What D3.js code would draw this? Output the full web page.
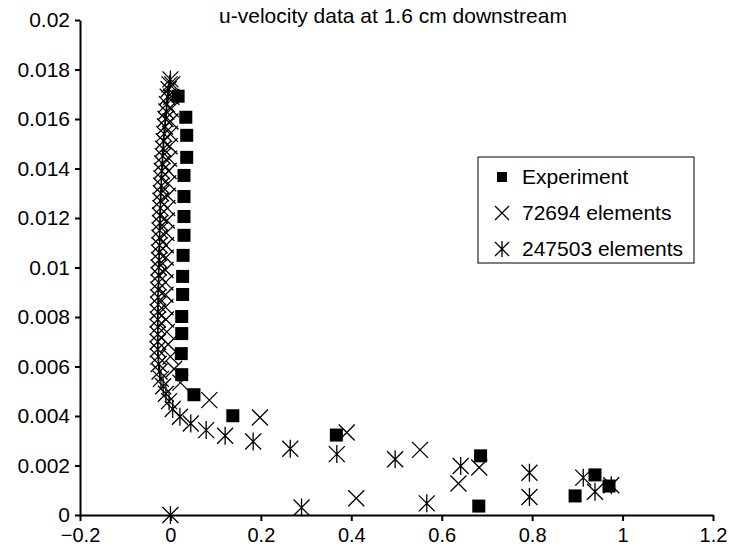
<!DOCTYPE html>
<html>
<head>
<meta charset="utf-8">
<script src="https://cdn.jsdelivr.net/npm/d3@7"></script>
<style>
  body { margin: 0; background: #fff; }
  svg { display: block; }
  text { font-family: "Liberation Sans", Arial, Helvetica, sans-serif; fill: #000; }
  .axis path, .axis line { stroke: #000; stroke-width: 2; }
  .axis text { font-size: 21px; }
  .xaxis text { font-size: 20px; }
</style>
</head>
<body>
<svg id="chart" width="729" height="547"></svg>
<script>
// ---- data ----
const title = "u-velocity data at 1.6 cm downstream"
const legendLabels = ["Experiment", "72694 elements", "247503 elements"]

const xTicks = [-0.2, 0, 0.2, 0.4, 0.6, 0.8, 1, 1.2]
const xTickLabels = ["\u22120.2", "0", "0.2", "0.4", "0.6", "0.8", "1", "1.2"]
const yTicks = [0, 0.002, 0.004, 0.006, 0.008, 0.01, 0.012, 0.014, 0.016, 0.018, 0.02]
const yTickLabels = ["0", "0.002", "0.004", "0.006", "0.008", "0.01", "0.012", "0.014", "0.016", "0.018", "0.02"]

// Experiment
const expX = [0.017, 0.034, 0.036, 0.036, 0.030, 0.030, 0.030, 0.030, 0.028, 0.027, 0.027, 0.025, 0.025, 0.024, 0.025,
              0.052, 0.138, 0.367, 0.686, 0.682, 0.895, 0.939, 0.970]
const expY = [0.01692, 0.01607, 0.01534, 0.01445, 0.01372, 0.01287, 0.01206, 0.01130, 0.01049, 0.00964, 0.00891, 0.00802, 0.00733, 0.00652, 0.00567,
              0.00486, 0.00401, 0.00323, 0.00239, 0.00036, 0.00077, 0.00162, 0.00117]

// 72694 elements
const coarseX = [0.411, 0.637, 0.683, 0.552, 0.390, 0.198, 0.086, 0.022, 0.008, 0.000, -0.005, -0.008, -0.010, -0.011, -0.011, -0.011,
                 -0.011, -0.010, -0.010, -0.009, -0.008, -0.007, -0.006, -0.005, -0.004, -0.003, -0.002, -0.001, 0.000, 0.001, 0.002, 0.004]
const coarseY = [0.00068, 0.00127, 0.00192, 0.00263, 0.00333, 0.00394, 0.00464, 0.00535, 0.0059, 0.0064, 0.0069, 0.0074, 0.0079, 0.0084, 0.0089, 0.0094,
                 0.0099, 0.0104, 0.0109, 0.0114, 0.0119, 0.0124, 0.0129, 0.0134, 0.0139, 0.0144, 0.0149, 0.0154, 0.0159, 0.0164, 0.0169, 0.0174]

// 247503 elements
const fineX = [0.000, 0.290, 0.567, 0.794, 0.939, 0.975, 0.913, 0.794, 0.642, 0.497, 0.368, 0.265, 0.183, 0.121, 0.079, 0.045, 0.021,
               0.005, -0.003, -0.010, -0.016, -0.021, -0.024, -0.026, -0.027, -0.028, -0.028, -0.028, -0.028, -0.028, -0.028,
               -0.027, -0.027, -0.027, -0.026, -0.026, -0.026, -0.025, -0.025, -0.024, -0.024, -0.024, -0.023, -0.023, -0.022,
               -0.022, -0.021, -0.020, -0.020, -0.019, -0.018, -0.017, -0.016, -0.015, -0.014, -0.012, -0.011, -0.009, -0.008,
               -0.006, -0.004, -0.002, 0.000]
const fineY = [0.0000, 0.0003, 0.00047, 0.00073, 0.00094, 0.0012, 0.00151, 0.00171, 0.00198, 0.00225, 0.00246, 0.00268, 0.00297, 0.0032, 0.00343, 0.0037, 0.00397,
               0.00428, 0.0046, 0.0049, 0.0052, 0.0055, 0.0058, 0.0061, 0.0064, 0.0067, 0.0070, 0.0073, 0.0076, 0.0079, 0.0082,
               0.0085, 0.0088, 0.0091, 0.0094, 0.0097, 0.0100, 0.0103, 0.0106, 0.0109, 0.0112, 0.0115, 0.0118, 0.0121, 0.0124,
               0.0127, 0.0130, 0.0133, 0.0136, 0.0139, 0.0142, 0.0145, 0.0148, 0.0151, 0.0154, 0.0157, 0.0160, 0.0163, 0.0166,
               0.0169, 0.0172, 0.0174, 0.0176]

// ---- layout ----
const svg = d3.select("#chart")
const xScale = d3.scaleLinear().domain([-0.2, 1.2]).range([80, 713])
const yScale = d3.scaleLinear().domain([0, 0.02]).range([515, 20])

// marker shapes
function timesPath(h) { return `M${-h},${-h}L${h},${h}M${-h},${h}L${h},${-h}` }
function starPath(h, v) { return timesPath(h) + `M0,${-v}L0,${v}` }

function zip(xs, ys) { return xs.map(function (x, i) { return {x: x, y: ys[i]} }) }

// axes
let x_axis = d3.axisBottom(xScale).tickValues(xTicks)
    .tickFormat(function (d, i) { return xTickLabels[i] })
    .tickSize(6).tickSizeOuter(0).tickPadding(7)
let y_axis = d3.axisLeft(yScale).tickValues(yTicks)
    .tickFormat(function (d, i) { return yTickLabels[i] })
    .tickSize(5).tickSizeOuter(0).tickPadding(5)

svg.append("g").attr("class", "axis xaxis")
    .attr("transform", `translate(0,${yScale(0)})`)
    .call(x_axis)
svg.append("g").attr("class", "axis")
    .attr("transform", `translate(${xScale(-0.2)},0)`)
    .call(y_axis)

// points
let plot = svg.append("g")

plot.selectAll(".fine")
    .data(zip(fineX, fineY))
    .enter()
    .append("path")
    .attr("class", "fine")
    .attr("transform", function (d) { return `translate(${xScale(d.x)},${yScale(d.y)})` })
    .attr("d", starPath(8, 9))
    .attr("fill", "none")
    .attr("stroke", "#000")
    .attr("stroke-width", 1.3)

plot.selectAll(".coarse")
    .data(zip(coarseX, coarseY))
    .enter()
    .append("path")
    .attr("class", "coarse")
    .attr("transform", function (d) { return `translate(${xScale(d.x)},${yScale(d.y)})` })
    .attr("d", timesPath(8))
    .attr("fill", "none")
    .attr("stroke", "#000")
    .attr("stroke-width", 1.3)

plot.selectAll(".exp")
    .data(zip(expX, expY))
    .enter()
    .append("rect")
    .attr("class", "exp")
    .attr("x", function (d) { return xScale(d.x) - 6.5 })
    .attr("y", function (d) { return yScale(d.y) - 6.5 })
    .attr("width", 13)
    .attr("height", 13)
    .attr("fill", "#000")

// title
svg.append("text")
    .attr("x", 393)
    .attr("y", 23)
    .attr("text-anchor", "middle")
    .style("font-size", "21px")
    .text(title)

// legend
let legend = svg.append("g").attr("transform", "translate(478,157)")
legend.append("rect")
    .attr("width", 216).attr("height", 106)
    .attr("fill", "#fff").attr("stroke", "#000").attr("stroke-width", 1)

let rows = legend.selectAll(".row")
    .data(legendLabels)
    .enter()
    .append("g")
    .attr("class", "row")
    .attr("transform", function (d, i) { return `translate(24,${20 + i * 36})` })

rows.append("text")
    .attr("x", 20)
    .attr("dy", "0.35em")
    .style("font-size", "21px")
    .text(function (d) { return d })

rows.filter(function (d, i) { return i === 0 }).append("rect")
    .attr("x", -5).attr("y", -5).attr("width", 10).attr("height", 10).attr("fill", "#000")
rows.filter(function (d, i) { return i === 1 }).append("path")
    .attr("d", timesPath(7)).attr("stroke", "#000").attr("stroke-width", 1.3).attr("fill", "none")
rows.filter(function (d, i) { return i === 2 }).append("path")
    .attr("d", starPath(7, 8)).attr("stroke", "#000").attr("stroke-width", 1.3).attr("fill", "none")
</script>
</body>
</html>
